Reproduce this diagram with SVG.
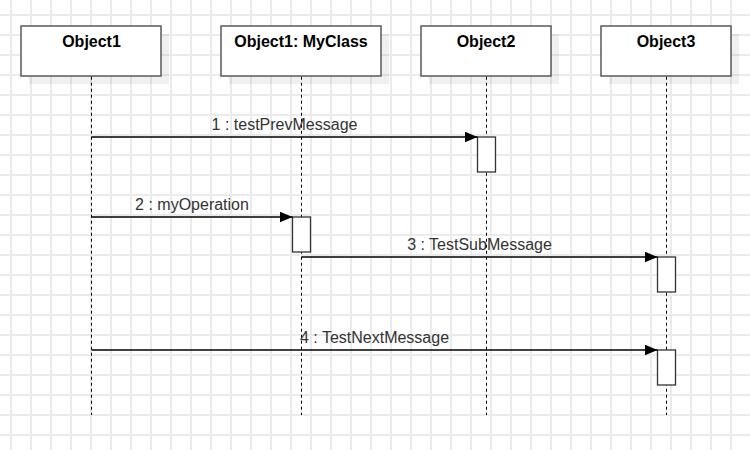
<svg xmlns="http://www.w3.org/2000/svg" width="750" height="450" viewBox="0 0 750 450">
  <defs>
    <pattern id="grid" x="1" y="5" width="20" height="20" patternUnits="userSpaceOnUse">
      <path d="M0,10 H20 M10,0 V20" fill="none" stroke="#ebebeb" stroke-width="2"/>
    </pattern>
    <marker id="block" markerUnits="userSpaceOnUse" markerWidth="14" markerHeight="12" refX="13" refY="5.5" orient="auto">
      <path d="M0,0 L13,5.5 L0,11 Z" fill="#000"/>
    </marker>
    <style>
      .shadow { fill: #000; fill-opacity: 0.06; }
      .head { fill: #fff; stroke: #595959; stroke-width: 1.5; }
      .title { font-family: "Liberation Sans", Arial, sans-serif; font-size: 16px; font-weight: bold; fill: #000; text-anchor: middle; }
      .life { fill: none; stroke: #000; stroke-width: 1; stroke-dasharray: 3 3; }
      .act { fill: #fff; stroke: #333; stroke-width: 1.3; }
      .msg { fill: none; stroke: #000; stroke-width: 1.3; marker-end: url(#block); }
      .lbl { font-family: "Liberation Sans", Arial, sans-serif; font-size: 16px; fill: #333; text-anchor: middle; }
    </style>
  </defs>
  <rect width="750" height="450" fill="#fff"/>
  <rect width="750" height="450" fill="url(#grid)"/>

  <g id="object1">
    <rect class="shadow" x="29" y="34" width="140" height="50"/>
    <rect class="head" x="21" y="26" width="140" height="50"/>
    <text class="title" x="91.5" y="47">Object1</text>
    <line class="life" x1="91.5" y1="76.75" x2="91.5" y2="415"/>
  </g>

  <g id="object1-myclass">
    <rect class="shadow" x="229" y="34" width="160" height="50"/>
    <rect class="head" x="221" y="26" width="160" height="50"/>
    <text class="title" x="301" y="47">Object1: MyClass</text>
    <line class="life" x1="301.5" y1="76.75" x2="301.5" y2="415"/>
  </g>

  <g id="object2">
    <rect class="shadow" x="429" y="34" width="130" height="50"/>
    <rect class="head" x="421" y="26" width="130" height="50"/>
    <text class="title" x="486" y="47">Object2</text>
    <line class="life" x1="486.5" y1="76.75" x2="486.5" y2="415"/>
  </g>

  <g id="object3">
    <rect class="shadow" x="609" y="34" width="130" height="50"/>
    <rect class="head" x="601" y="26" width="130" height="50"/>
    <text class="title" x="666" y="47">Object3</text>
    <line class="life" x1="666.5" y1="76.75" x2="666.5" y2="415"/>
  </g>

  <g id="activation-object2-1">
    <rect class="act" x="477.5" y="137" width="18" height="35"/>
  </g>
  <g id="activation-myclass-1">
    <rect class="act" x="292.5" y="217" width="18" height="35"/>
  </g>
  <g id="activation-object3-1">
    <rect class="act" x="657.5" y="257" width="18" height="35"/>
  </g>
  <g id="activation-object3-2">
    <rect class="act" x="657.5" y="350" width="18" height="35"/>
  </g>

  <g id="connectors">
    <line class="msg" x1="91.5" y1="137" x2="477.5" y2="137"/>
    <text class="lbl" x="284.5" y="130">1 : testPrevMessage</text>
    <line class="msg" x1="91.5" y1="217" x2="292.5" y2="217"/>
    <text class="lbl" x="192" y="210">2 : myOperation</text>
    <line class="msg" x1="301.5" y1="257" x2="657.5" y2="257"/>
    <text class="lbl" x="479.5" y="250">3 : TestSubMessage</text>
    <line class="msg" x1="91.5" y1="350" x2="657.5" y2="350"/>
    <text class="lbl" x="374.5" y="343">4 : TestNextMessage</text>
  </g>
</svg>
